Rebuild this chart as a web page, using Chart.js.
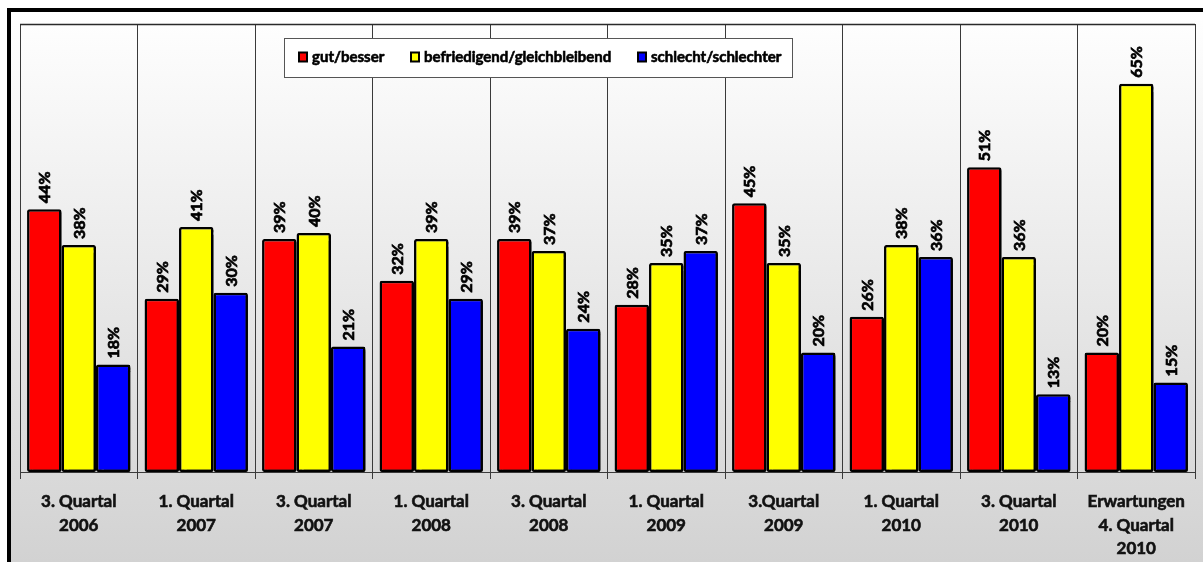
<!DOCTYPE html>
<html>
<head>
<meta charset="utf-8">
<script src="https://cdn.jsdelivr.net/npm/chart.js@4"></script>
<style>
  body { margin: 0; background: #ffffff; }
  canvas { display: block; }
</style>
</head>
<body>
<canvas id="umfrage-chart" width="1203" height="562"></canvas>
<script>
// Kategorien (Befragungszeitpunkte) und Werte in Prozent
const periods = [
  ["3. Quartal", "2006"],
  ["1. Quartal", "2007"],
  ["3. Quartal", "2007"],
  ["1. Quartal", "2008"],
  ["3. Quartal", "2008"],
  ["1. Quartal", "2009"],
  ["3.Quartal", "2009"],
  ["1. Quartal", "2010"],
  ["3. Quartal", "2010"],
  ["Erwartungen", "4. Quartal", "2010"]
];
const gutBesser = [44, 29, 39, 32, 39, 28, 45, 26, 51, 20];
const befriedigend = [38, 41, 40, 39, 37, 35, 35, 38, 36, 65];
const schlecht = [18, 30, 21, 29, 24, 37, 20, 36, 13, 15];
const seriesNames = ["gut/besser", "befriedigend/gleichbleibend", "schlecht/schlechter"];
const seriesColors = ["#ff0000", "#ffff00", "#0000ff"];

const FONT = "Lato, 'Open Sans', sans-serif";

// Hintergrund mit Verlauf und schwarzem Rahmen
const backgroundPlugin = {
  id: "backgroundFrame",
  beforeDraw(chart) {
    const { ctx, width, height } = chart;
    ctx.save();
    ctx.fillStyle = "#ffffff";
    ctx.fillRect(0, 0, width, height);
    const grad = ctx.createLinearGradient(0, 12, 0, height);
    grad.addColorStop(0, "#ffffff");
    grad.addColorStop(1, "#d2d2d2");
    ctx.fillStyle = grad;
    ctx.fillRect(11, 12, width - 11, height - 12);
    ctx.fillStyle = "#000000";
    ctx.fillRect(7, 8, width - 7, 4);
    ctx.fillRect(7, 8, 4, height - 8);
    ctx.restore();
  },
  afterDraw(chart) {
    const { ctx, chartArea } = chart;
    ctx.save();
    ctx.strokeStyle = "#2a2a2a";
    ctx.lineWidth = 1.5;
    ctx.beginPath();
    ctx.moveTo(chartArea.left, chartArea.top + 0.5);
    ctx.lineTo(chartArea.right, chartArea.top + 0.5);
    ctx.stroke();
    ctx.restore();
  }
};

// Schatten unter den Balken
const shadowPlugin = {
  id: "barShadow",
  beforeDatasetsDraw(chart) {
    const ctx = chart.ctx;
    ctx.save();
    ctx.shadowColor = "rgba(0,0,0,0.75)";
    ctx.shadowOffsetX = 3;
    ctx.shadowOffsetY = 3;
    ctx.shadowBlur = 1;
  },
  afterDatasetsDraw(chart) {
    chart.ctx.restore();
  }
};

// senkrechte Prozentwerte über den Balken
const valueLabelPlugin = {
  id: "valueLabels",
  afterDatasetsDraw(chart) {
    const ctx = chart.ctx;
    ctx.save();
    ctx.fillStyle = "#000000";
    ctx.strokeStyle = "#000000";
    ctx.lineWidth = 0.7;
    ctx.font = "bold 16px " + FONT;
    ctx.textAlign = "left";
    ctx.textBaseline = "middle";
    chart.data.datasets.forEach((ds, i) => {
      const meta = chart.getDatasetMeta(i);
      meta.data.forEach((bar, j) => {
        ctx.save();
        ctx.translate(bar.x + 1, bar.y - 6);
        ctx.rotate(-Math.PI / 2);
        ctx.fillText(ds.data[j] + "%", 0, 0);
        ctx.strokeText(ds.data[j] + "%", 0, 0);
        ctx.restore();
      });
    });
    ctx.restore();
  }
};

// Legende im Kasten oben
const legendBoxPlugin = {
  id: "legendBox",
  afterDraw(chart) {
    const ctx = chart.ctx;
    const box = { x: 284, y: 38, w: 508, h: 39 };
    ctx.save();
    ctx.fillStyle = "#ffffff";
    ctx.fillRect(box.x, box.y, box.w, box.h);
    ctx.strokeStyle = "#555555";
    ctx.lineWidth = 1;
    ctx.strokeRect(box.x + 0.5, box.y + 0.5, box.w, box.h);
    ctx.font = "bold 15px " + FONT;
    ctx.textBaseline = "middle";
    const starts = [298, 410, 637];
    const cy = box.y + box.h / 2;
    chart.data.datasets.forEach((ds, i) => {
      const x = starts[i];
      ctx.fillStyle = "#000000";
      ctx.fillRect(x, cy - 6, 10, 11);
      ctx.fillStyle = ds.backgroundColor;
      ctx.fillRect(x + 2, cy - 4, 6, 7);
      ctx.fillStyle = "#000000";
      ctx.strokeStyle = "#000000";
      ctx.lineWidth = 0.6;
      ctx.fillText(ds.label, x + 14, cy);
      ctx.strokeText(ds.label, x + 14, cy);
    });
    ctx.restore();
  }
};

const ctx = document.getElementById("umfrage-chart").getContext("2d");
const datasets = [gutBesser, befriedigend, schlecht].map((values, i) => ({
  label: seriesNames[i],
  data: values,
  backgroundColor: seriesColors[i],
  borderColor: "#000000",
  borderWidth: 2.5,
  borderRadius: 2,
  borderSkipped: false,
  categoryPercentage: 0.88,
  barPercentage: 1.0
}));

new Chart(ctx, {
  type: "bar",
  data: { labels: periods, datasets },
  options: {
    responsive: false,
    animation: false,
    devicePixelRatio: 1,
    layout: { padding: { left: 20, right: 8, top: 24, bottom: 0 } },
    plugins: {
      legend: { display: false },
      tooltip: { enabled: false }
    },
    scales: {
      x: {
        grid: {
          color: "#3a3a3a",
          lineWidth: 1,
          tickLength: 7,
          offset: true
        },
        border: { color: "#3a3a3a", width: 1 },
        ticks: {
          color: "#111111",
          textStrokeColor: "#111111",
          textStrokeWidth: 0.6,
          font: { family: FONT, size: 17, weight: "bold", lineHeight: 1.38 },
          padding: 11,
          maxRotation: 0,
          autoSkip: false
        },
        afterFit(scale) {
          scale.height = 90;
        }
      },
      y: {
        display: false,
        min: 0,
        max: 75
      }
    }
  },
  plugins: [backgroundPlugin, shadowPlugin, valueLabelPlugin, legendBoxPlugin]
});
</script>
</body>
</html>
